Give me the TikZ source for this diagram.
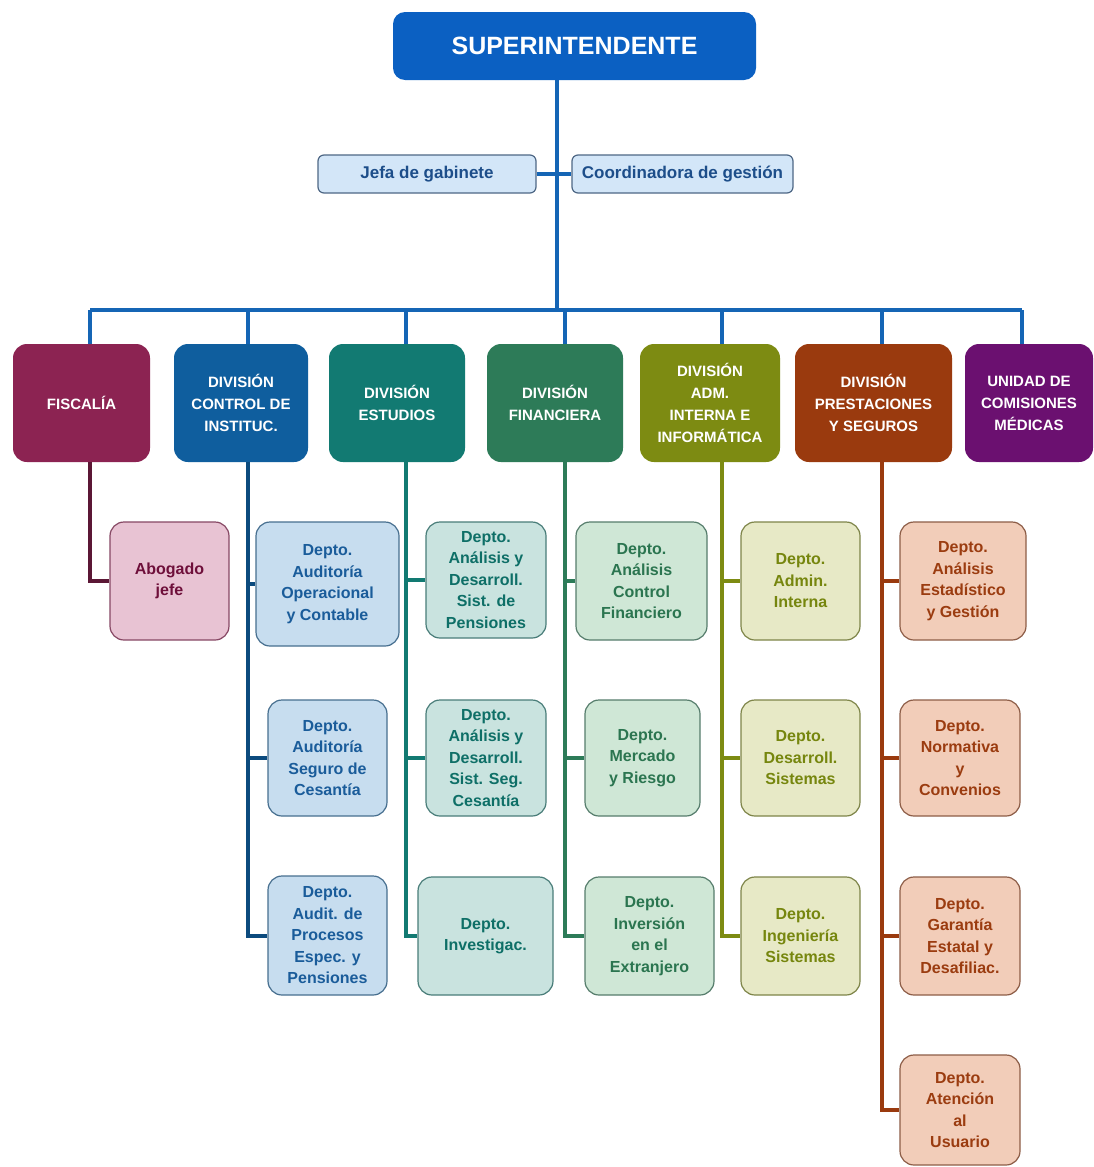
\documentclass[tikz,border=0pt]{standalone}
\usepackage{fontspec}
\setmainfont{Liberation Sans}
\definecolor{supblue}{HTML}{0B60C2}
\definecolor{busblue}{HTML}{1565B5}
\definecolor{jefafill}{HTML}{D3E6F8}
\definecolor{jefatext}{HTML}{1D4E8A}
\definecolor{fiscol}{HTML}{8C2352}
\definecolor{fisfill}{HTML}{E8C3D3}
\definecolor{fistext}{HTML}{6E0F3A}
\definecolor{ctlcol}{HTML}{0F5E9E}
\definecolor{ctlfill}{HTML}{C7DDEF}
\definecolor{ctltext}{HTML}{1A5C9A}
\definecolor{estcol}{HTML}{127A72}
\definecolor{estfill}{HTML}{C9E3DF}
\definecolor{esttext}{HTML}{0E6F67}
\definecolor{fincol}{HTML}{2D7B58}
\definecolor{finfill}{HTML}{CFE7D6}
\definecolor{fintext}{HTML}{2B7550}
\definecolor{admcol}{HTML}{7D8B12}
\definecolor{admfill}{HTML}{E7E9C6}
\definecolor{admtext}{HTML}{76860E}
\definecolor{precol}{HTML}{9A3A0E}
\definecolor{prefill}{HTML}{F2CDB9}
\definecolor{pretext}{HTML}{9B3C10}
\definecolor{unicol}{HTML}{6B1070}
\begin{document}
\begin{tikzpicture}[x = 1pt, y = -1pt,
div/.style = {rounded corners = 14pt, minimum height = 118pt, align = center, text = white, inner sep = 2pt, font = \fontsize{15}{22}\selectfont\bfseries},
dep/.style = {rounded corners = 14pt, align = center, inner sep = 2pt, line width = 1.2pt, font = \fontsize{16}{21.5}\selectfont\bfseries},
bus/.style = {busblue, line width = 4pt}]
\useasboundingbox [fill = white] (0,0) rectangle (1093,1167);
\node [fill = supblue, text = white, rounded corners = 12pt, minimum width = 363pt, minimum height = 68pt, font = \fontsize{25}{28}\selectfont\bfseries] (sup) at (574.5,46) {SUPERINTENDENTE};
\node [dep, fill = jefafill, draw = jefatext!50!gray, text = jefatext, rounded corners = 6pt, minimum width = 218pt, minimum height = 38pt, font = \fontsize{17}{20}\selectfont\bfseries] (jefa) at (427,174) {Jefa de gabinete};
\node [dep, fill = jefafill, draw = jefatext!50!gray, text = jefatext, rounded corners = 6pt, minimum width = 221pt, minimum height = 38pt, font = \fontsize{17}{20}\selectfont\bfseries] (coord) at (682.5,174) {Coordinadora de gestión};
\node [div, fill = fiscol, minimum width = 137pt] (fis) at (81.5,403) {FISCALÍA};
\node [div, fill = ctlcol, minimum width = 134pt] (ctl) at (241,403) {DIVISIÓN\\CONTROL DE\\INSTITUC.};
\node [div, fill = estcol, minimum width = 136pt] (est) at (397,403) {DIVISIÓN\\ESTUDIOS};
\node [div, fill = fincol, minimum width = 136pt] (fin) at (555,403) {DIVISIÓN\\FINANCIERA};
\node [div, fill = admcol, minimum width = 140pt] (adm) at (710,403) {DIVISIÓN\\ADM.\\INTERNA E\\INFORMÁTICA};
\node [div, fill = precol, minimum width = 157pt] (pre) at (873.5,403) {DIVISIÓN\\PRESTACIONES\\Y SEGUROS};
\node [div, fill = unicol, minimum width = 128pt] (uni) at (1029,403) {UNIDAD DE\\COMISIONES\\MÉDICAS};
\foreach \d/\s in {fis/8.5,ctl/7,est/9,fin/10,adm/12,pre/8.5,uni/-7}{
\coordinate (\d L) at ([xshift = \s pt]\d.south);
}
\coordinate (hub) at (557,310);
\coordinate (busL) at (fisL |- hub);
\coordinate (busR) at (uniL |- hub);
\draw [bus] (hub |- sup.south) -- (hub);
\draw [bus] (jefa.east) -- (coord.west);
\draw [bus] (busL) -- (busR);
\foreach \d in {fis,ctl,est,fin,adm,pre,uni}{
\draw [bus] (\d L |- \d.north) -- (\d L |- busL);
}
\node [dep, fill = fisfill, draw = fiscol!60!gray, text = fistext, minimum width = 119pt, minimum height = 118pt] (abog) at (169.5,581) {Abogado\\jefe};
\node [dep, fill = ctlfill, draw = ctlcol!50!gray, text = ctltext, minimum width = 143pt, minimum height = 124pt] (ctlA) at (327.5,584) {Depto.\\Auditoría\\Operacional\\y Contable};
\node [dep, fill = ctlfill, draw = ctlcol!50!gray, text = ctltext, minimum width = 119pt, minimum height = 116pt] (ctlB) at (327.5,758) {Depto.\\Auditoría\\Seguro de\\Cesantía};
\node [dep, fill = ctlfill, draw = ctlcol!50!gray, text = ctltext, minimum width = 119pt, minimum height = 119pt] (ctlC) at (327.5,935.5) {Depto.\\Audit. de\\Procesos\\Espec. y\\Pensiones};
\node [dep, fill = estfill, draw = estcol!50!gray, text = esttext, minimum width = 120pt, minimum height = 116pt] (estA) at (486,580) {Depto.\\Análisis y\\Desarroll.\\Sist. de\\Pensiones};
\node [dep, fill = estfill, draw = estcol!50!gray, text = esttext, minimum width = 120pt, minimum height = 116pt] (estB) at (486,758) {Depto.\\Análisis y\\Desarroll.\\Sist. Seg.\\Cesantía};
\node [dep, fill = estfill, draw = estcol!50!gray, text = esttext, minimum width = 135pt, minimum height = 118pt] (estC) at (485.5,936) {Depto.\\Investigac.};
\node [dep, fill = finfill, draw = fincol!50!gray, text = fintext, minimum width = 131pt, minimum height = 118pt] (finA) at (641.5,581) {Depto.\\Análisis\\Control\\Financiero};
\node [dep, fill = finfill, draw = fincol!50!gray, text = fintext, minimum width = 115pt, minimum height = 116pt] (finB) at (642.5,758) {Depto.\\Mercado\\y Riesgo};
\node [dep, fill = finfill, draw = fincol!50!gray, text = fintext, minimum width = 129pt, minimum height = 118pt] (finC) at (649.5,936) {Depto.\\Inversión\\en el\\Extranjero};
\node [dep, fill = admfill, draw = admcol!50!gray, text = admtext, minimum width = 119pt, minimum height = 118pt] (admA) at (800.5,581) {Depto.\\Admin.\\Interna};
\node [dep, fill = admfill, draw = admcol!50!gray, text = admtext, minimum width = 119pt, minimum height = 116pt] (admB) at (800.5,758) {Depto.\\Desarroll.\\Sistemas};
\node [dep, fill = admfill, draw = admcol!50!gray, text = admtext, minimum width = 119pt, minimum height = 118pt] (admC) at (800.5,936) {Depto.\\Ingeniería\\Sistemas};
\node [dep, fill = prefill, draw = precol!50!gray, text = pretext, minimum width = 126pt, minimum height = 118pt] (preA) at (963,581) {Depto.\\Análisis\\Estadístico\\y Gestión};
\node [dep, fill = prefill, draw = precol!50!gray, text = pretext, minimum width = 120pt, minimum height = 116pt] (preB) at (960,758) {Depto.\\Normativa\\y\\Convenios};
\node [dep, fill = prefill, draw = precol!50!gray, text = pretext, minimum width = 120pt, minimum height = 118pt] (preC) at (960,936) {Depto.\\Garantía\\Estatal y\\Desafiliac.};
\node [dep, fill = prefill, draw = precol!50!gray, text = pretext, minimum width = 120pt, minimum height = 110pt] (preD) at (960,1110) {Depto.\\Atención\\al\\Usuario};
\draw [fiscol!65!black, line width = 4pt] (fisL) |- (abog.west);
\draw [ctlcol!80!black, line width = 4pt] (ctlL) |- (ctlC.west);
\draw [ctlcol!80!black, line width = 4pt] (ctlL |- ctlA.west) -- (ctlA.west);
\draw [ctlcol!80!black, line width = 4pt] (ctlL |- ctlB.west) -- (ctlB.west);
\draw [estcol, line width = 4pt] (estL) |- (estC.west);
\draw [estcol, line width = 4pt] (estL |- estA.west) -- (estA.west);
\draw [estcol, line width = 4pt] (estL |- estB.west) -- (estB.west);
\draw [fincol, line width = 4pt] (finL) |- (finC.west);
\draw [fincol, line width = 4pt] (finL |- finA.west) -- (finA.west);
\draw [fincol, line width = 4pt] (finL |- finB.west) -- (finB.west);
\draw [admcol, line width = 4pt] (admL) |- (admC.west);
\draw [admcol, line width = 4pt] (admL |- admA.west) -- (admA.west);
\draw [admcol, line width = 4pt] (admL |- admB.west) -- (admB.west);
\draw [precol, line width = 4pt] (preL) |- (preD.west);
\draw [precol, line width = 4pt] (preL |- preA.west) -- (preA.west);
\draw [precol, line width = 4pt] (preL |- preB.west) -- (preB.west);
\draw [precol, line width = 4pt] (preL |- preC.west) -- (preC.west);
\end{tikzpicture}
\end{document}
